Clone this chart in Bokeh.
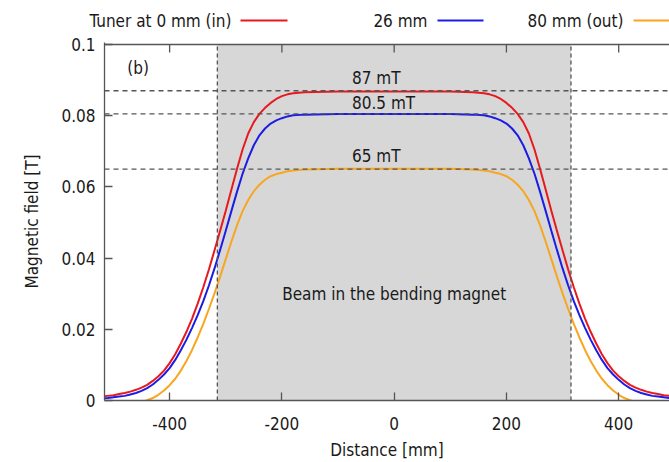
from bokeh.plotting import figure
from bokeh.models import Range1d, FixedTicker, Span, BoxAnnotation, Label
from bokeh.layouts import column
from bokeh.embed import file_html
from bokeh.resources import INLINE

# ---------------- data ----------------
distance = [-520, -510, -500, -490, -480, -470, -460, -450, -440, -430,
            -420, -410, -400, -390, -380, -370, -360, -350, -340, -330,
            -320, -310, -300, -290, -280, -270, -260, -250, -240, -230,
            -220, -210, -200, -190, -180,
            -160, -100, -50, 0, 50, 100, 140,
            160, 170, 180, 190, 200, 210, 220, 230, 240, 250,
            260, 270, 280, 290, 300, 310, 320, 330, 340, 350,
            360, 370, 380, 390, 400, 410, 420, 430, 440, 450,
            460, 470, 480, 490, 500]

field_in = [0.0011, 0.0013, 0.0015, 0.0018, 0.0021, 0.0025, 0.0030, 0.0036, 0.0044, 0.0055,
            0.0068, 0.0084, 0.0105, 0.0130, 0.0160, 0.0193, 0.0230, 0.0272, 0.0318, 0.0368,
            0.0422, 0.0477, 0.0533, 0.0592, 0.0650, 0.0705, 0.0750, 0.0782, 0.0805, 0.0822,
            0.0836, 0.0847, 0.0855, 0.0860, 0.0863,
            0.0866, 0.0868, 0.0868, 0.0868, 0.0868, 0.0868, 0.0866,
            0.0863, 0.0860, 0.0855, 0.0847, 0.0836, 0.0822, 0.0805, 0.0782, 0.0750, 0.0705,
            0.0650, 0.0592, 0.0533, 0.0477, 0.0422, 0.0368, 0.0318, 0.0272, 0.0230, 0.0193,
            0.0160, 0.0130, 0.0105, 0.0084, 0.0068, 0.0055, 0.0044, 0.0036, 0.0030, 0.0025,
            0.0021, 0.0018, 0.0015, 0.0013, 0.0011]

field_26 = [0.0006, 0.0007, 0.0009, 0.0011, 0.0013, 0.0017, 0.0021, 0.0027, 0.0035, 0.0045,
            0.0058, 0.0073, 0.0091, 0.0114, 0.0141, 0.0171, 0.0204, 0.0240, 0.0279, 0.0323,
            0.0371, 0.0423, 0.0477, 0.0532, 0.0586, 0.0637, 0.0680, 0.0717, 0.0745, 0.0764,
            0.0778, 0.0787, 0.0793, 0.0798, 0.0801,
            0.0803, 0.0805, 0.0805, 0.0805, 0.0805, 0.0805, 0.0803,
            0.0801, 0.0798, 0.0793, 0.0787, 0.0778, 0.0764, 0.0745, 0.0717, 0.0680, 0.0637,
            0.0586, 0.0532, 0.0477, 0.0423, 0.0371, 0.0323, 0.0279, 0.0240, 0.0204, 0.0171,
            0.0141, 0.0114, 0.0091, 0.0073, 0.0058, 0.0045, 0.0035, 0.0027, 0.0021, 0.0017,
            0.0013, 0.0011, 0.0009, 0.0007, 0.0006]

field_out = [-0.0025, -0.0022, -0.0019, -0.0016, -0.0013, -0.0010, -0.0007, -0.0004, 0.0001, 0.0007,
             0.0016, 0.0028, 0.0043, 0.0061, 0.0084, 0.0111, 0.0142, 0.0177, 0.0215, 0.0257,
             0.0301, 0.0348, 0.0397, 0.0446, 0.0492, 0.0532, 0.0563, 0.0588, 0.0606, 0.0620,
             0.0630, 0.0636, 0.0640, 0.0644, 0.0646,
             0.0649, 0.0651, 0.0651, 0.0651, 0.0651, 0.0651, 0.0649,
             0.0646, 0.0644, 0.0640, 0.0636, 0.0630, 0.0620, 0.0606, 0.0588, 0.0563, 0.0532,
             0.0492, 0.0446, 0.0397, 0.0348, 0.0301, 0.0257, 0.0215, 0.0177, 0.0142, 0.0111,
             0.0084, 0.0061, 0.0043, 0.0028, 0.0016, 0.0007, 0.0001, -0.0004, -0.0007, -0.0010,
             -0.0013, -0.0016, -0.0019, -0.0022, -0.0025]

series_names = ["Tuner at 0 mm (in)", "26 mm", "80 mm (out)"]
series_colors = ["#e8191e", "#1c1ce6", "#f8a620"]

plateau_mT = [87, 80.5, 65]
plateau_labels = ["87 mT", "80.5 mT", "65 mT"]
beam_region = [-315, 315]
region_label = "Beam in the bending magnet"
panel_label = "(b)"

x_ticks = [-400, -200, 0, 200, 400]
x_tick_labels = ["-400", "-200", "0", "200", "400"]
y_ticks = [0, 0.02, 0.04, 0.06, 0.08, 0.1]
y_tick_labels = ["0", "0.02", "0.04", "0.06", "0.08", "0.1"]

# ---------------- styling ----------------
FONT = "DejaVu Sans Condensed"
FS = "17px"
AX = "#555555"
TXT = "#1a1a1a"
W = 669
LEFT = 104
LEGEND_H = 34
X_RANGE = (-516, 490.5)
Y_TOP = 0.10056          # frame reaches 2 px above the 0.1 border
TICK_LEN = 0.00225       # 8 px in data units on the y scale

# ---------------- main plot ----------------
p = figure(width=W, height=428, x_range=Range1d(*X_RANGE), y_range=Range1d(0, Y_TOP),
           output_backend="svg", toolbar_location=None,
           min_border_left=LEFT, min_border_right=0, min_border_top=8, min_border_bottom=62)
p.frame_align = False
p.outline_line_color = None
p.grid.visible = False
p.background_fill_color = "white"
p.border_fill_color = "white"

p.add_layout(BoxAnnotation(left=beam_region[0], right=beam_region[1],
                           bottom=y_ticks[0], top=y_ticks[-1],
                           fill_color="#d7d7d7", fill_alpha=1.0, line_color=None,
                           level="underlay"))

for ys, col in zip([field_in, field_26, field_out], series_colors):
    p.line(distance, ys, line_color=col, line_width=2)

for loc in beam_region:
    p.segment(x0=[loc], y0=[y_ticks[0]], x1=[loc], y1=[y_ticks[-1]],
              line_color=AX, line_width=1.3, line_dash="4 3")
for v in plateau_mT:
    p.add_layout(Span(location=v / 1000.0, dimension="width", line_color=AX,
                      line_width=1.3, line_dash="5 4"))

# top border with mirrored inward ticks
p.add_layout(Span(location=y_ticks[-1], dimension="width", line_color=AX, line_width=1.3))
p.segment(x0=x_ticks, y0=[y_ticks[-1]] * len(x_ticks), x1=x_ticks,
          y1=[y_ticks[-1] - TICK_LEN] * len(x_ticks), line_color=AX, line_width=1.3)

label_offsets = [13, 10.5, 13.5]
for v, txt, off in zip(plateau_mT, plateau_labels, label_offsets):
    p.add_layout(Label(x=-75, y=v / 1000.0, y_offset=off, text=txt,
                       text_font=FONT, text_font_size=FS, text_color=TXT,
                       text_align="left", text_baseline="middle"))

p.add_layout(Label(x=0, y=0.0298, text=region_label, text_font=FONT, text_font_size=FS,
                   text_color=TXT, text_align="center", text_baseline="middle"))
p.add_layout(Label(x=-456, y=0.0934, text=panel_label, text_font=FONT, text_font_size=FS,
                   text_color=TXT, text_align="center", text_baseline="middle"))

# axes
xa = p.xaxis[0]
xa.ticker = FixedTicker(ticks=x_ticks)
xa.major_label_overrides = dict(zip(x_ticks, x_tick_labels))
ya = p.yaxis[0]
ya.ticker = FixedTicker(ticks=y_ticks)
ya.major_label_overrides = dict(zip(y_ticks, y_tick_labels))
for ax in (xa, ya):
    ax.axis_line_color = AX
    ax.axis_line_width = 1.3
    ax.major_tick_line_color = AX
    ax.major_tick_line_width = 1.3
    ax.major_tick_in = 8
    ax.major_tick_out = 0
    ax.minor_tick_line_color = None
    ax.major_label_text_font = FONT
    ax.major_label_text_font_size = FS
    ax.major_label_text_color = TXT
    ax.axis_label_text_font = FONT
    ax.axis_label_text_font_size = FS
    ax.axis_label_text_font_style = "normal"
    ax.axis_label_text_color = TXT
xa.axis_label = "Distance [mm]"
xa.major_label_standoff = 16
xa.axis_label_standoff = 7
ya.axis_label = "Magnetic field [T]"
ya.major_label_standoff = 9
ya.axis_label_standoff = 16

# ---------------- legend strip (text before line, as in the original) ----------------
lf = figure(width=W, height=LEGEND_H, x_range=Range1d(0, W), y_range=Range1d(0, LEGEND_H),
            output_backend="svg", toolbar_location=None,
            x_axis_location=None, y_axis_location=None,
            min_border_left=0, min_border_right=0, min_border_top=0, min_border_bottom=0)
lf.frame_align = False
lf.outline_line_color = None
lf.grid.visible = False
lf.background_fill_color = "white"
lf.border_fill_color = "white"

legend_text_end = [231, 427, 623]
legend_line_start = [240, 437, 633]
legend_line_end = [287, 483, 680]
legend_y = LEGEND_H - 20
lf.segment(x0=legend_line_start, y0=[legend_y] * 3, x1=legend_line_end, y1=[legend_y] * 3,
           line_color=series_colors, line_width=2)
for xe, name in zip(legend_text_end, series_names):
    lf.add_layout(Label(x=xe, y=legend_y, text=name, text_font=FONT, text_font_size=FS,
                        text_color=TXT, text_align="right", text_baseline="middle"))

layout = column(lf, p, spacing=0)
open("out.html", "w").write(file_html(layout, INLINE))
